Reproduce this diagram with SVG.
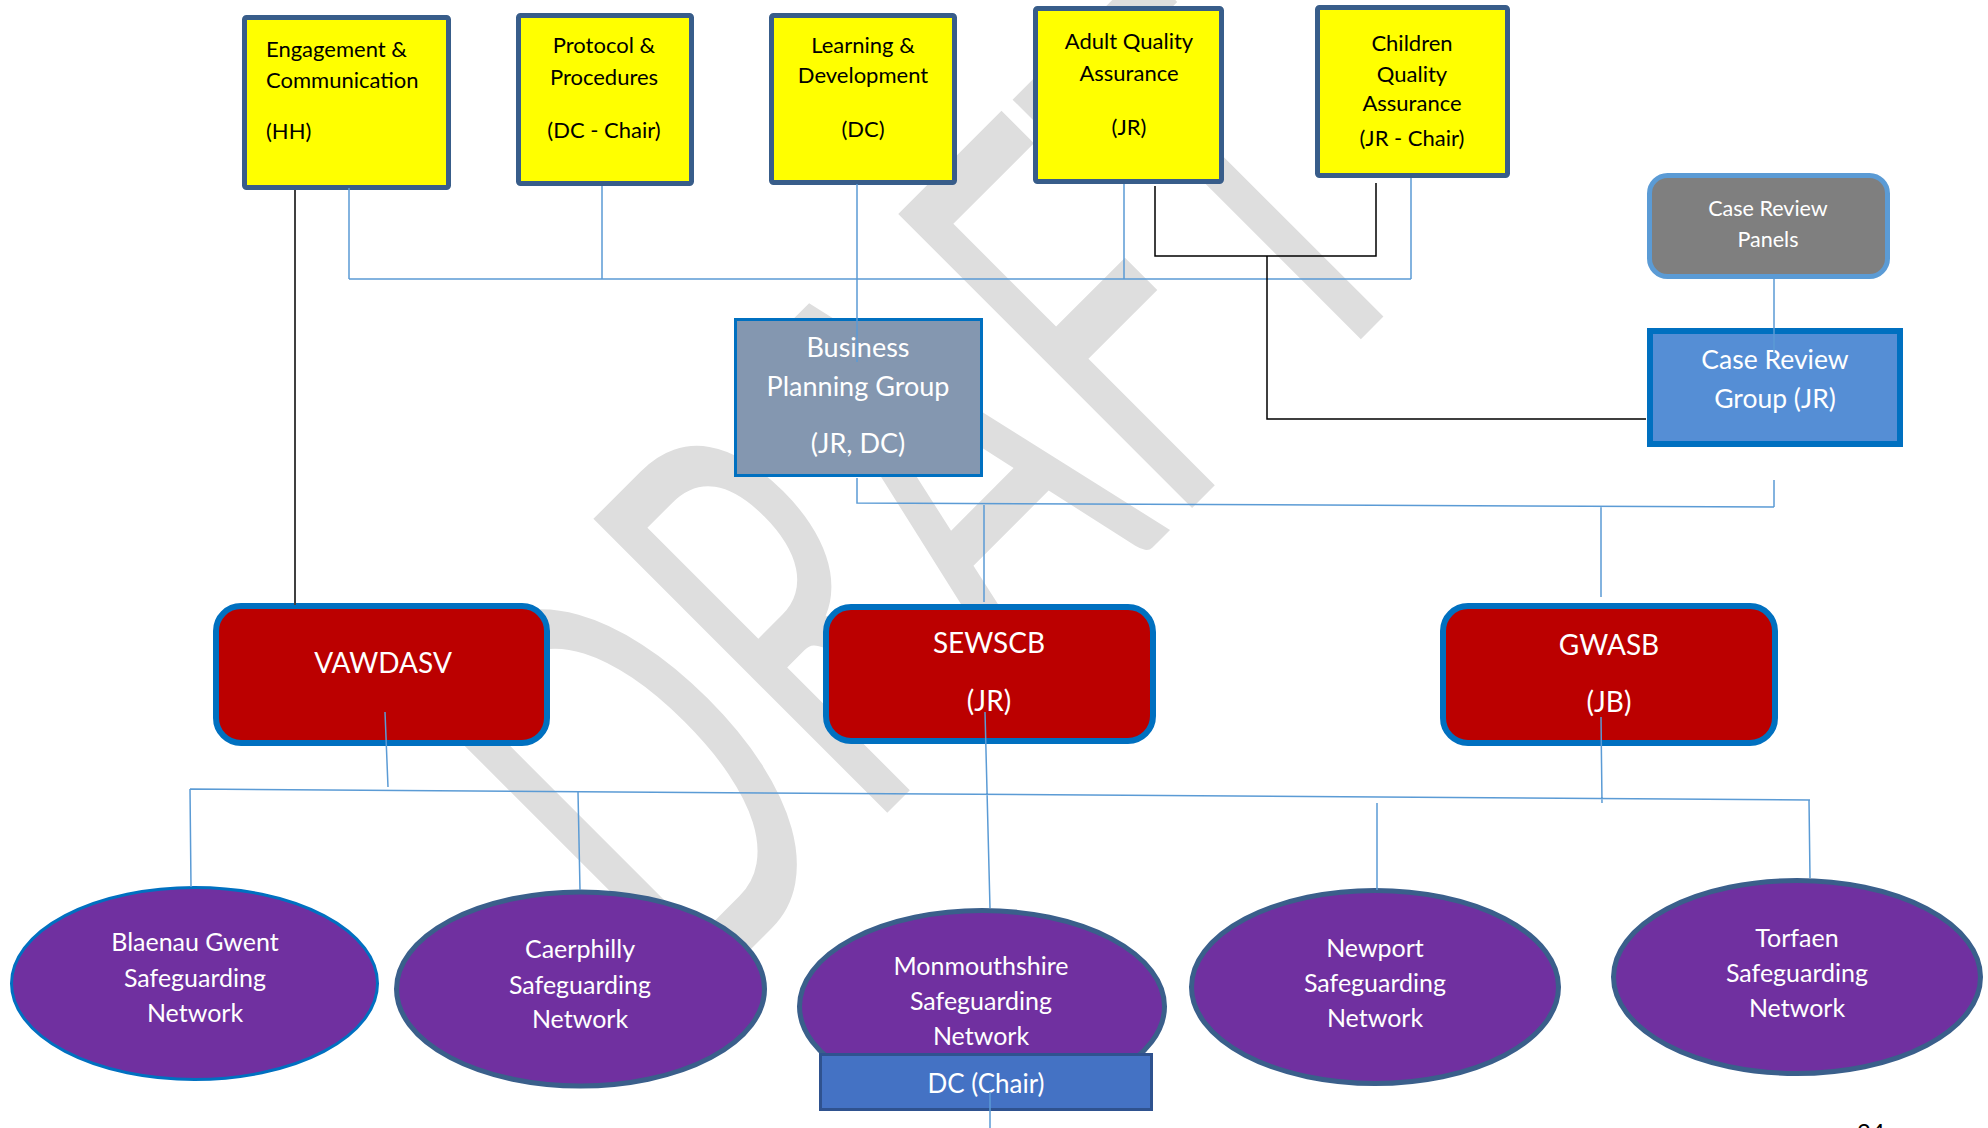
<svg xmlns="http://www.w3.org/2000/svg" width="1988" height="1128" viewBox="0 0 1988 1128">
<style>
text{font-family:Lato,"Open Sans","DejaVu Sans",sans-serif}
.wm{fill:#DEDEDE;font-size:580px}
.yb{fill:#FFFF00;stroke:#385D8A;stroke-width:5}
.yt{font-size:22px;fill:#000;text-anchor:middle}
.red{fill:#BB0000;stroke:#0070C0;stroke-width:6}
.rt{font-size:28px;fill:#fff;text-anchor:middle}
.el{fill:#7030A0;stroke:#3A5F8B;stroke-width:5}
.et{font-size:25px;fill:#fff;text-anchor:middle}
.wt{fill:#fff;text-anchor:middle}
.bl{fill:none;stroke:#5B9BD5;stroke-width:1.5}
.bk{fill:none;stroke:#000;stroke-width:1.5}
</style>
<rect width="1988" height="1128" fill="#fff"/>
<g id="watermark">
<text class="wm" transform="translate(688,1012) rotate(-45)" x="0" y="0" textLength="1065" lengthAdjust="spacingAndGlyphs">DRAFT</text>
</g>
<g id="nodes">
<g id="engagement"><rect class="yb" x="244.5" y="17.5" width="204" height="170" rx="2"/>
<text class="yt" style="text-anchor:start" x="266" y="57">Engagement &amp;</text>
<text class="yt" style="text-anchor:start" x="266" y="88">Communication</text>
<text class="yt" style="text-anchor:start" x="266" y="139">(HH)</text></g>
<g id="protocol"><rect class="yb" x="518.5" y="15.5" width="173" height="168" rx="2"/>
<text class="yt" x="604" y="53">Protocol &amp;</text>
<text class="yt" x="604" y="85">Procedures</text>
<text class="yt" x="604" y="138">(DC - Chair)</text></g>
<g id="learning"><rect class="yb" x="771.5" y="15.5" width="183" height="167" rx="2"/>
<text class="yt" x="863" y="53">Learning &amp;</text>
<text class="yt" x="863" y="83">Development</text>
<text class="yt" x="863" y="137">(DC)</text></g>
<g id="adult-qa"><rect class="yb" x="1035.5" y="8.5" width="186" height="173" rx="2"/>
<text class="yt" x="1129" y="49">Adult Quality</text>
<text class="yt" x="1129" y="81">Assurance</text>
<text class="yt" x="1129" y="135">(JR)</text></g>
<g id="children-qa"><rect class="yb" x="1317.5" y="7.5" width="190" height="168" rx="2"/>
<text class="yt" x="1412" y="51">Children</text>
<text class="yt" x="1412" y="82">Quality</text>
<text class="yt" x="1412" y="111">Assurance</text>
<text class="yt" x="1412" y="146">(JR - Chair)</text></g>
<g id="case-review-panels"><rect x="1649.5" y="175.5" width="238" height="101" rx="18" fill="#7F7F7F" stroke="#5B9BD5" stroke-width="5"/>
<text class="wt" style="font-size:21.5px" x="1768" y="216">Case Review</text>
<text class="wt" style="font-size:21.5px" x="1768" y="247">Panels</text></g>
<g id="case-review-group"><rect x="1650" y="331" width="250" height="113" fill="#558ED5" stroke="#0070C0" stroke-width="6"/>
<text class="wt" style="font-size:26.5px" x="1775" y="369">Case Review</text>
<text class="wt" style="font-size:26.5px" x="1775" y="408">Group (JR)</text></g>
<g id="business-planning"><rect x="735.5" y="319.5" width="246" height="156" fill="#8497B0" stroke="#0070C0" stroke-width="3"/>
<text class="wt" style="font-size:27px" x="858" y="357">Business</text>
<text class="wt" style="font-size:27px" x="858" y="396">Planning Group</text>
<text class="wt" style="font-size:27px" x="858" y="453">(JR, DC)</text></g>
<g id="vawdasv"><rect class="red" x="216" y="606" width="331" height="137" rx="25"/>
<text class="rt" x="383" y="673">VAWDASV</text></g>
<g id="sewscb"><rect class="red" x="826" y="607" width="327" height="134" rx="25"/>
<text class="rt" x="989" y="653">SEWSCB</text>
<text class="rt" x="989" y="711">(JR)</text></g>
<g id="gwasb"><rect class="red" x="1443" y="606" width="332" height="137" rx="25"/>
<text class="rt" x="1609" y="655">GWASB</text>
<text class="rt" x="1609" y="712">(JB)</text></g>
<g id="blaenau-gwent"><ellipse cx="194.5" cy="983.5" rx="183" ry="96" fill="#7030A0" stroke="#0070C0" stroke-width="3"/>
<text class="et" x="195" y="951">Blaenau Gwent</text>
<text class="et" x="195" y="987">Safeguarding</text>
<text class="et" x="195" y="1022">Network</text></g>
<g id="caerphilly"><ellipse class="el" cx="580.5" cy="989" rx="184" ry="97"/>
<text class="et" x="580" y="958">Caerphilly</text>
<text class="et" x="580" y="994">Safeguarding</text>
<text class="et" x="580" y="1028">Network</text></g>
<g id="monmouthshire"><ellipse class="el" cx="982" cy="1006.5" rx="182.5" ry="96"/>
<text class="et" x="981" y="975">Monmouthshire</text>
<text class="et" x="981" y="1010">Safeguarding</text>
<text class="et" x="981" y="1045">Network</text></g>
<g id="dc-chair"><rect x="820.5" y="1054.5" width="331" height="55" fill="#4472C4" stroke="#2F528F" stroke-width="3"/>
<text class="wt" style="font-size:26px" x="986" y="1093">DC (Chair)</text></g>
<g id="newport"><ellipse class="el" cx="1375" cy="987" rx="183.5" ry="96.5"/>
<text class="et" x="1375" y="957">Newport</text>
<text class="et" x="1375" y="992">Safeguarding</text>
<text class="et" x="1375" y="1027">Network</text></g>
<g id="torfaen"><ellipse class="el" cx="1797" cy="977" rx="183.5" ry="96.5"/>
<text class="et" x="1797" y="947">Torfaen</text>
<text class="et" x="1797" y="982">Safeguarding</text>
<text class="et" x="1797" y="1017">Network</text></g>
</g>
<g id="connectors">
<path class="bl" d="M349 188V279M602 186V279M349 279H1411M857 184V362M1124 184V279M1411 178V279"/>
<path class="bl" d="M857 478V503L1774 507M1774 480V507M984 505V602M1601 507V597M1774 279V352"/>
<path class="bl" d="M385 712L388 787M190 789L1810 800M190 789L191 887M578 792L580 890M985 712L990 908M990 1092V1128M1377 803V890M1601 717L1602 803M1809 800L1810 878"/>
<path d="M295 190V605" fill="none" stroke="#404040" stroke-width="2"/>
<path class="bk" d="M1155 186V256H1376V183M1267 256V419H1646"/>
</g>
<text x="1857" y="1141" style="font-size:24px;fill:#000">24</text>
</svg>
